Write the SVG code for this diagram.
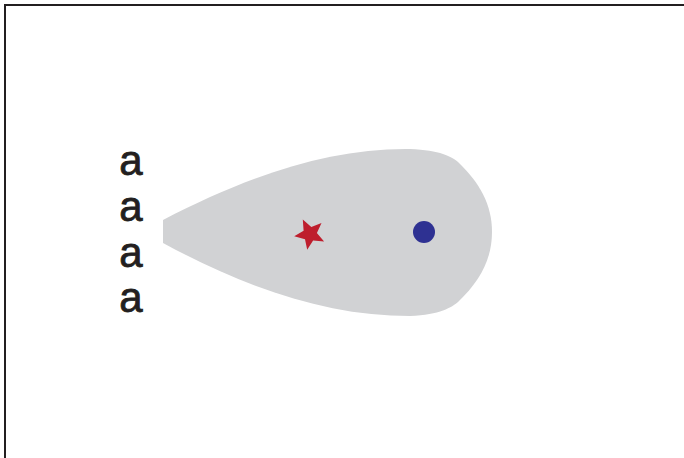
<svg xmlns="http://www.w3.org/2000/svg" width="684" height="458" viewBox="0 0 684 458">
<style>
.lbl{font-family:"Liberation Sans",Arial,sans-serif;font-size:42px;fill:#231f20;stroke:#231f20;stroke-width:0.8;text-anchor:middle}
.frame{fill:none;stroke:#231f20;stroke-width:2}
</style>
<rect width="684" height="458" fill="#ffffff"/>
<path class="frame" d="M5,458 V5 H684"/>
<g id="labels">
<text class="lbl" x="131" y="175">a</text>
<text class="lbl" x="131" y="221">a</text>
<text class="lbl" x="131" y="267">a</text>
<text class="lbl" x="131" y="312">a</text>
</g>
<g id="drop">
<path d="M163,220 C250,175 330,148 410,149 C440,150 452,157 458,162 C480,183 492,205 492,232 C492,259 480,281 458,302 C452,307 440,315 410,316 C330,316 250,290 163,243 Z" fill="#d1d2d4"/>
</g>
<g id="star">
<polygon points="294.2,236.2 303.6,230.7 302.8,219.6 311.3,226.9 321.5,222.9 316.9,232.9 324.1,241.5 313.1,240.4 307.2,249.8 305.0,239.2" fill="#be1e2d"/>
</g>
<g id="dot">
<circle cx="424" cy="232" r="11" fill="#2e3192"/>
</g>
</svg>
